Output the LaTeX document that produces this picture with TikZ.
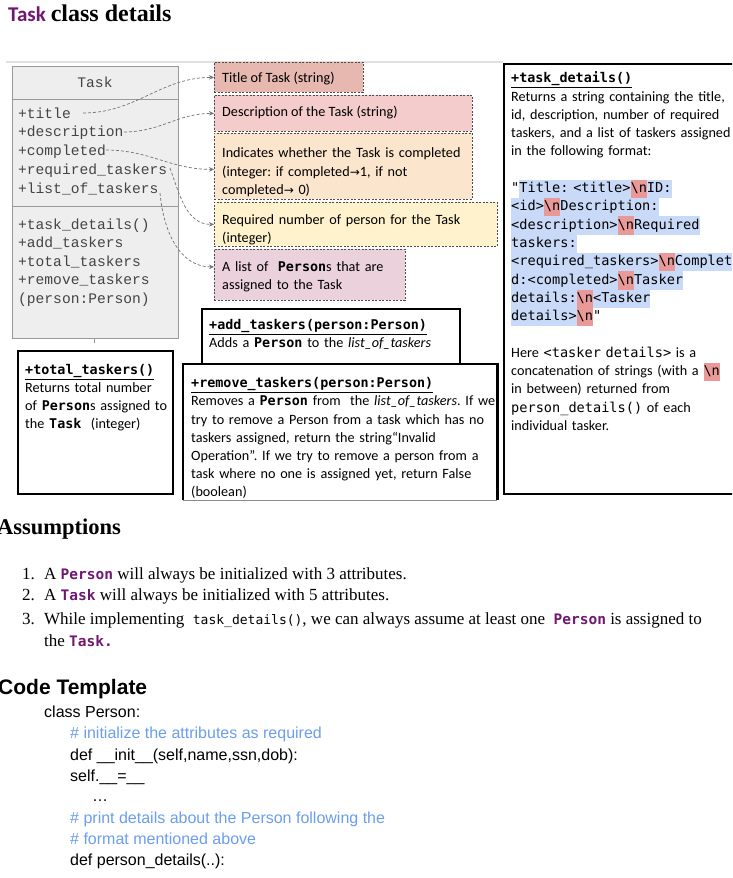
\documentclass[tikz,border=0pt]{standalone}
\usepackage{fontspec}
\usetikzlibrary{arrows.meta}
\setmainfont{Carlito}
\newfontfamily\fCal{Carlito}
\newfontfamily\fSer{Liberation Serif}
\newfontfamily\fAri{Liberation Sans}
\newfontfamily\fCon{DejaVu Sans Mono}
\newfontfamily\fCou{Liberation Mono}
\newfontfamily\fDjv{DejaVu Sans}
\definecolor{purp}{RGB}{112,24,112}
\definecolor{cmt}{HTML}{6D9EEB}
\definecolor{hlblue}{HTML}{C9DAF8}
\definecolor{hlred}{HTML}{EA9999}
\definecolor{fA}{HTML}{E6B8AF}
\definecolor{fB}{HTML}{F4CCCC}
\definecolor{fC}{HTML}{FCE5CD}
\definecolor{fD}{HTML}{FFF2CC}
\definecolor{fE}{HTML}{EAD1DC}
\definecolor{umlfill}{HTML}{EEEEEE}
\definecolor{umlline}{HTML}{999999}
\definecolor{umltext}{HTML}{444444}
\setlength{\parindent}{0pt}
\frenchspacing
\newcommand\hb[1]{{\setlength{\fboxsep}{0pt}\colorbox{hlblue}{\strut#1}}}
\newcommand\nn{{\setlength{\fboxsep}{0pt}\colorbox{hlred}{\strut\textbackslash n}}}
\newcommand\mc[1]{{\fCon\fontsize{13.6}{\the\baselineskip}\selectfont #1}}
\newcommand\mcb[1]{{\fCon\bfseries\fontsize{13.4}{\the\baselineskip}\selectfont #1}}
\newcommand\pmc[1]{{\fCon\bfseries\fontsize{14.5}{\the\baselineskip}\selectfont\color{purp}#1}}
\newcommand\smc[1]{{\fCon\fontsize{13}{\the\baselineskip}\selectfont #1}}
\newcommand\bodyfont[1]{\fCal\fontsize{14.2}{#1}\selectfont}
\begin{document}
\begin{tikzpicture}[x=1pt,y=-1pt,
  txt/.style={inner sep=0pt, anchor=north west, text width=#1, align=left},
  lbl/.style={inner sep=0pt, anchor=base west},
  rbox/.style={draw=black!70, dash pattern=on 2pt off 1.5pt, line width=0.8pt, inner sep=0pt, anchor=north west},
  bbox/.style={draw=black, line width=2.2pt, inner sep=0pt, anchor=north west, fill=white},
  umlbox/.style={draw=umlline, line width=0.8pt, fill=umlfill, inner sep=0pt, anchor=north west},
  conn/.style={draw=black!55, dash pattern=on 3pt off 2pt, line width=0.7pt, -{Stealth[length=5pt,width=4.5pt]}},
  ser/.style={font=\fSer\fontsize{17}{20}\selectfont},
  code/.style={font=\fAri\fontsize{16}{19}\selectfont}
]
\clip (0,0) rectangle (732,878);
\fill[white] (0,0) rectangle (732,878);

% title
\node[lbl] (title) at (8,21) {{\fCal\bfseries\fontsize{21}{24}\selectfont\color{purp}Task}\hspace{5pt}{\fSer\bfseries\fontsize{24}{27}\selectfont class details}};
\draw[line width=2pt, black!12] (6,62) -- (503,62);

% UML Task box
\node[umlbox, minimum width=166pt, minimum height=272pt] (task) at (12,66) {};
\draw[umlline, line width=0.8pt] (12,99) -- (178,99);
\draw[umlline, line width=0.8pt] (12,206) -- (178,206);
\draw[umlline, line width=0.8pt] (94,338) -- (94,343);
\node[inner sep=0pt, anchor=base, font=\fCou\fontsize{14.6}{18}\selectfont, text=umltext] (tname) at (95,87) {Task};
\node[txt=200pt, font=\fCou\fontsize{14.6}{18.75}\selectfont, text=umltext] (attrs) at (18,104.9)
 {\strut+title\\+description\\+completed\\+required\_taskers\\+list\_of\_taskers};
\node[txt=200pt, font=\fCou\fontsize{14.6}{18.5}\selectfont, text=umltext] (meth) at (18,216)
 {\strut+task\_details()\\+add\_taskers\\+total\_taskers\\+remove\_taskers\\(person:Person)};

% attribute boxes
\node[rbox, fill=fA, minimum width=149pt, minimum height=30pt] (b1) at (214,62) {};
\node[rbox, fill=fB, minimum width=258pt, minimum height=36pt] (b2) at (214,95) {};
\node[rbox, fill=fC, minimum width=258pt, minimum height=66pt] (b3) at (214,133) {};
\node[rbox, fill=fD, minimum width=283pt, minimum height=44pt] (b4) at (214,202) {};
\node[rbox, fill=fE, minimum width=191pt, minimum height=51pt] (b5) at (214,249) {};
\node[lbl, font=\bodyfont{18}] (t1) at (222,82.5) {Title of Task (string)};
\node[lbl, font=\bodyfont{18}] (t2) at (222,116.5) {Description of the Task (string)};
\node[txt=300pt, font=\bodyfont{18.5}] (t3) at (222,144.5)
 {\strut Indicates whether the Task is completed\\(integer: if completed{\fDjv\fontsize{12}{18.5}\selectfont→}1, if not\\completed{\fDjv\fontsize{12}{18.5}\selectfont→} 0)};
\node[txt=300pt, font=\bodyfont{18}] (t4) at (222,211.9)
 {\strut Required number of person for the Task\\(integer)};
\node[txt=300pt, font=\bodyfont{18}] (t5) at (222,258.9)
 {\strut A list of~ \mcb{Person}s that are\\assigned to the Task};

% connectors
\coordinate (a1) at (83,113);
\coordinate (a2) at (124,132);
\coordinate (a3) at (106,150);
\coordinate (a4) at (170,168);
\coordinate (a5) at (160,193);
\draw[conn] (a1) to[out=0,in=180] (b1.west);
\draw[conn] (a2) to[out=0,in=180] (b2.west);
\draw[conn] (a3) to[out=0,in=180] ([yshift=-3pt]b3.west);
\draw[conn] (a4) to[out=-70,in=180] (b4.west);
\draw[conn] (a5) to[out=-85,in=180] ([yshift=8pt]b5.west);

% task_details box
\node[bbox, minimum width=260pt, minimum height=430pt] (rbx) at (503,63) {};
\node[txt=300pt, font=\bodyfont{18.3}] (rtext) at (511,69.7) {\strut\underline{\mcb{+task\_details()}}\\
Returns a string containing the title,\\
id, description, number of required\\
taskers, and a list of taskers assigned\\
in the following format:\\
\mbox{}\\
\mc{"\hb{Title: <title>\nn ID:}}\\
\mc{\hb{<id>\nn Description:}}\\
\mc{\hb{<description>\nn Required}}\\
\mc{\hb{taskers:}}\\
\mc{\hb{<required\_taskers>\nn Complete}}\\
\mc{\hb{d:<completed>\nn Tasker}}\\
\mc{\hb{details:\nn <Tasker}}\\
\mc{\hb{details>}\nn"}\\
\mbox{}\\
Here \mc{<tasker details>} is a\\
concatenation of strings (with a \mc{\nn}\\
in between) returned from\\
\mc{person\_details()} of each\\
individual tasker.};

% total_taskers box
\node[bbox, minimum width=155pt, minimum height=143pt] (tot) at (17,350) {};
\node[txt=150pt, font=\bodyfont{18}] (ttext) at (25,361.9)
 {\strut\underline{\mcb{+total\_taskers()}}\\Returns total number\\of \mcb{Person}s assigned to\\the \mcb{Task}~ (integer)};

% add_taskers box
\node[bbox, minimum width=258pt, minimum height=56pt] (addb) at (201,308) {};
\node[txt=280pt, font=\bodyfont{18.2}] (atext) at (209,316.8)
 {\strut\underline{\mcb{+add\_taskers(person:Person)}}\\Adds a \mcb{Person} to the \textit{list\_of\_taskers}};

% remove_taskers box
\node[inner sep=0pt, anchor=north west, fill=white, minimum width=314pt, minimum height=136pt] (rmb) at (183,364) {};
\draw[line width=2.2pt] (rmb.south west) |- (rmb.north east) -- (rmb.south east);
\draw[line width=0.8pt, black!45] (rmb.south west) -- (rmb.south east);
\node[txt=310pt, font=\bodyfont{18.2}] (rtext2) at (191,374.8)
 {\strut\underline{\mcb{+remove\_taskers(person:Person)}}\\
Removes a \mcb{Person} from~ the \textit{list\_of\_taskers}. If we\\
try to remove a Person from a task which has no\\
taskers assigned, return the string“Invalid\\
Operation”. If we try to remove a person from a\\
task where no one is assigned yet, return False\\
(boolean)};

% Assumptions
\node[lbl, font=\fSer\bfseries\fontsize{22.5}{26}\selectfont] (assum) at (-3,534) {Assumptions};
\node[lbl, ser] (n1) at (22,579) {1.};
\node[lbl, ser] (i1) at (44,579) {A \pmc{Person} will always be initialized with 3 attributes.};
\node[lbl, ser] (n2) at (22,600) {2.};
\node[lbl, ser] (i2) at (44,600) {A \pmc{Task} will always be initialized with 5 attributes.};
\node[lbl, ser] (n3) at (22,624) {3.};
\node[lbl, ser] (i3) at (44,624) {While implementing~ \smc{task\_details()}, we can always assume at least one~ \pmc{Person} is assigned to};
\node[lbl, ser] (i3b) at (44,646) {the \pmc{Task.}};

% Code template
\node[lbl, font=\fAri\bfseries\fontsize{21}{24}\selectfont] (ct) at (-2,694) {Code Template};
\node[lbl, code] (c1) at (44,717.5) {class Person:};
\node[lbl, code, text=cmt] (c2) at (70,738.5) {\# initialize the attributes as required};
\node[lbl, code] (c3) at (70,760.5) {def \_\_init\_\_(self,name,ssn,dob):};
\node[lbl, code] (c4) at (70,781.5) {self.\_\_=\_\_};
\node[lbl, code] (c5) at (92,801) {…};
\node[lbl, code, text=cmt] (c6) at (70,823.5) {\# print details about the Person following the};
\node[lbl, code, text=cmt] (c7) at (70,844.5) {\# format mentioned above};
\node[lbl, code] (c8) at (70,865.5) {def person\_details(..):};
\end{tikzpicture}
\end{document}
